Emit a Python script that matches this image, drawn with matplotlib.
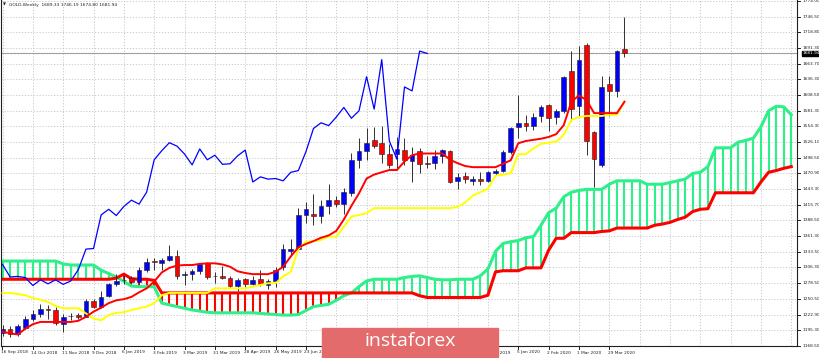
import matplotlib
matplotlib.use("Agg")
import matplotlib.pyplot as plt
from matplotlib.patches import Rectangle
import numpy as np

# weekly GOLD candles, one per week from 16 Sep 2018
opens = [1191, 1197, 1189, 1200, 1215, 1224, 1232, 1231, 1206, 1220,
         1222, 1219, 1247, 1237, 1256, 1277, 1283, 1287, 1281, 1302,
         1317, 1313, 1319, 1326, 1292, 1294, 1300, 1313, 1291, 1291,
         1288, 1274, 1285, 1277, 1285, 1275, 1282, 1306, 1335, 1339,
         1398, 1399, 1396, 1414, 1425, 1417, 1437, 1495, 1511, 1530,
         1525, 1505, 1505, 1513, 1493, 1511, 1490, 1490, 1502, 1511,
         1458, 1466, 1458, 1462, 1458, 1472, 1476, 1509, 1553, 1559,
         1555, 1572, 1591, 1570, 1581, 1651, 1590, 1697, 1544, 1486,
         1628, 1615, 1689.33]
highs = [1205, 1202, 1206, 1220, 1231, 1241, 1240, 1237, 1224, 1226,
         1226, 1251, 1251, 1265, 1278, 1294, 1292, 1291, 1307, 1322,
         1323, 1323, 1345, 1336, 1300, 1303, 1314, 1316, 1298, 1308,
         1290, 1288, 1288, 1290, 1301, 1286, 1306, 1347, 1355, 1410,
         1421, 1435, 1425, 1452, 1432, 1445, 1507, 1533, 1550, 1552,
         1554, 1522, 1535, 1533, 1517, 1516, 1502, 1512, 1514, 1513,
         1472, 1474, 1466, 1474, 1476, 1478, 1512, 1553, 1609, 1574,
         1578, 1592, 1593, 1584, 1643, 1687, 1695, 1701, 1546, 1642,
         1642, 1688, 1746.19]
lows = [1185, 1184, 1186, 1197, 1212, 1219, 1216, 1205, 1193, 1214,
        1215, 1218, 1235, 1235, 1254, 1274, 1277, 1278, 1277, 1297,
        1302, 1301, 1317, 1285, 1275, 1283, 1294, 1285, 1279, 1285,
        1269, 1265, 1272, 1275, 1273, 1267, 1271, 1302, 1325, 1336,
        1384, 1380, 1384, 1400, 1412, 1400, 1431, 1480, 1494, 1515,
        1489, 1480, 1480, 1485, 1456, 1472, 1480, 1478, 1490, 1455,
        1443, 1455, 1450, 1450, 1456, 1469, 1474, 1506, 1534, 1545,
        1548, 1562, 1546, 1557, 1578, 1564, 1572, 1503, 1448, 1483,
        1572, 1606, 1674.80]
closes = [1197, 1189, 1202, 1215, 1224, 1232, 1231, 1208, 1219, 1221,
          1219, 1247, 1237, 1253, 1276, 1282, 1284, 1281, 1302, 1316,
          1315, 1319, 1326, 1291, 1295, 1300, 1311, 1289, 1290, 1288,
          1274, 1284, 1277, 1284, 1276, 1282, 1302, 1338, 1339, 1398,
          1408, 1397, 1413, 1424, 1417, 1438, 1495, 1511, 1525, 1519,
          1505, 1486, 1514, 1495, 1503, 1487, 1488, 1502, 1512, 1456,
          1465, 1461, 1462, 1458, 1473, 1476, 1509, 1550, 1560, 1555,
          1570, 1587, 1568, 1581, 1641, 1584, 1671, 1528, 1496, 1623,
          1616, 1686, 1681.94]

# Ichimoku lines
tenkan = [1193, 1190, 1188, 1198, 1206, 1210, 1210, 1210, 1210, 1210,
          1212, 1219, 1228, 1235, 1243, 1248, 1250, 1254, 1262, 1269,
          1281, 1297, 1305, 1309, 1310, 1310, 1312, 1313, 1313, 1311,
          1307, 1299, 1296, 1294, 1294, 1294, 1298, 1307, 1325, 1341,
          1347, 1352, 1358, 1362, 1370, 1390, 1414, 1436, 1462, 1469,
          1473, 1477, 1477, 1492, 1503, 1506, 1506, 1506, 1506, 1495,
          1489, 1484, 1482, 1482, 1482, 1482, 1488, 1494, 1524, 1528,
          1530, 1532, 1535, 1540, 1556, 1597, 1608, 1600, 1577, 1577,
          1577, 1577, 1597]
kijun = [1261, 1261, 1259, 1257, 1252, 1249, 1245, 1238, 1234, 1234,
         1234, 1225, 1216, 1213, 1222, 1226, 1227, 1231, 1234, 1237,
         1243, 1257, 1261, 1261, 1261, 1261, 1261, 1261, 1269, 1269,
         1269, 1269, 1269, 1272, 1275, 1278, 1278, 1290, 1298, 1338,
         1351, 1352, 1354, 1360, 1360, 1377, 1395, 1398, 1401, 1410,
         1410, 1410, 1410, 1410, 1410, 1410, 1410, 1410, 1410, 1410,
         1412, 1420, 1432, 1438, 1444, 1467, 1469, 1471, 1505, 1505,
         1515, 1523, 1525, 1527, 1539, 1565, 1570, 1572, 1572, 1572,
         1574, 1574, 1597]
span_a = [1317, 1317, 1317, 1317, 1317, 1317, 1317, 1317, 1312, 1310,
          1310, 1310, 1310, 1301, 1295, 1289, 1281, 1273, 1272, 1272,
          1272, 1243, 1240, 1237, 1234, 1231, 1229, 1227, 1226, 1226,
          1226, 1226, 1226, 1226, 1225, 1224, 1223, 1222, 1222, 1223,
          1230, 1237, 1239, 1241, 1248, 1256, 1261, 1272, 1282, 1285,
          1285, 1285, 1285, 1288, 1290, 1291, 1288, 1285, 1284, 1284,
          1285, 1285, 1285, 1291, 1303, 1334, 1348, 1351, 1353, 1358,
          1360, 1380, 1402, 1410, 1430, 1438, 1441, 1443, 1443, 1443,
          1452, 1458, 1458, 1458, 1458, 1452, 1452, 1452, 1455, 1458,
          1461, 1471, 1473, 1483, 1516, 1516, 1516, 1526, 1529, 1533,
          1553, 1581, 1589, 1588, 1574]
span_b = [1285, 1285, 1285, 1285, 1285, 1285, 1285, 1285, 1285, 1285,
          1285, 1285, 1285, 1285, 1285, 1287, 1294, 1286, 1285, 1285,
          1283, 1261, 1261, 1261, 1261, 1261, 1261, 1261, 1261, 1261,
          1261, 1261, 1261, 1261, 1261, 1261, 1261, 1261, 1261, 1261,
          1261, 1261, 1261, 1261, 1261, 1261, 1261, 1261, 1261, 1261,
          1261, 1261, 1261, 1261, 1261, 1256, 1253, 1253, 1253, 1253,
          1253, 1253, 1253, 1253, 1257, 1298, 1300, 1300, 1300, 1305,
          1305, 1305, 1336, 1357, 1357, 1367, 1367, 1367, 1367, 1369,
          1370, 1375, 1375, 1375, 1375, 1375, 1380, 1382, 1385, 1390,
          1394, 1404, 1408, 1409, 1437, 1437, 1437, 1437, 1437, 1437,
          1456, 1473, 1476, 1480, 1483]

date_labels = ["16 Sep 2018", "14 Oct 2018", "11 Nov 2018", "9 Dec 2018",
               "6 Jan 2019", "3 Feb 2019", "3 Mar 2019", "31 Mar 2019",
               "28 Apr 2019", "26 May 2019", "23 Jun 2019", "21 Jul 2019",
               "18 Aug 2019", "15 Sep 2019", "13 Oct 2019", "10 Nov 2019",
               "8 Dec 2019", "5 Jan 2020", "2 Feb 2020", "1 Mar 2020",
               "29 Mar 2020"]
price_labels = [1774.00, 1746.50, 1718.80, 1691.30, 1663.70, 1636.30,
                1608.50, 1581.30, 1554.30, 1526.10, 1498.50, 1470.90,
                1443.30, 1415.70, 1388.50, 1361.30, 1333.50, 1306.30,
                1278.50, 1250.50, 1222.90, 1195.30, 1168.50]
last_price = 1681.94
shift = 26

W, H = 820, 358
fig = plt.figure(figsize=(W / 100, H / 100), dpi=100)
fig.patch.set_facecolor("white")
ax = fig.add_axes([1 / W, 12 / H, 796 / W, 346 / H])
ax.set_xlim(-0.2, 104.75)
ax.set_ylim(1167.7, 1775.8)

gridc = "#c4c4c4"
for p in price_labels:
    ax.axhline(p, color=gridc, lw=0.6, ls=(0, (1.5, 2)), zorder=0)
for k in range(0, 106, 4):
    ax.axvline(k, color=gridc, lw=0.6, ls=(0, (1.5, 2)), zorder=0)

# cloud with vertical hatching
green = "#2ef08a"
xc = np.arange(len(span_a))
a = np.array(span_a)
b = np.array(span_b)
ax.vlines(xc[a >= b], b[a >= b], a[a >= b], color=green, lw=1.5, zorder=1)
ax.vlines(xc[a < b], a[a < b], b[a < b], color="#ff0000", lw=1.5, zorder=1)
ax.plot(xc, span_a, color=green, lw=2.2, zorder=2)
ax.plot(xc, span_b, color="#ff0000", lw=2.2, zorder=2)

# candles
x = np.arange(len(closes))
o = np.array(opens)
c = np.array(closes)
ax.vlines(x, lows, highs, color="#303030", lw=0.7, zorder=3)
up = c >= o
ax.bar(x[up], c[up] - o[up], bottom=o[up], width=0.62, color="#0000ff",
       edgecolor="#202020", lw=0.4, zorder=4)
ax.bar(x[~up], o[~up] - c[~up], bottom=c[~up], width=0.62, color="#ff0000",
       edgecolor="#202020", lw=0.4, zorder=4)

ax.plot(x, kijun, color="#ffff00", lw=1.4, zorder=5)
ax.plot(x, tenkan, color="#ff0000", lw=1.4, zorder=6)
ax.plot(x[:-shift], closes[shift:], color="#0000ff", lw=0.9, zorder=6)

ax.axhline(last_price, color="#a0a0a0", lw=0.8, zorder=2)

ax.set_xticks([])
ax.set_yticks([])
ax.spines["top"].set_visible(False)
for s in ["left", "right", "bottom"]:
    ax.spines[s].set_color("#202020")
    ax.spines[s].set_linewidth(0.8)


def fx(px):
    return px / W


def fy(py):
    return 1 - py / H


def xpix(i):
    return 2.5 + 7.585 * i


def ypix(p):
    return 1 + (1774.0 - p) * 0.569


# date axis
for n, lab in enumerate(date_labels):
    xp = xpix(4 * n)
    fig.add_artist(plt.Line2D([fx(xp), fx(xp)], [fy(346), fy(349)],
                              color="#202020", lw=0.7))
    fig.text(fx(xp - 1.5), fy(352.5), lab, fontsize=3.1, ha="left",
             va="center", color="#202020")

# price axis
for p in price_labels:
    yp = ypix(p)
    fig.add_artist(plt.Line2D([fx(797), fx(800)], [fy(yp), fy(yp)],
                              color="#202020", lw=0.7))
    fig.text(fx(802.5), fy(yp), "%.2f" % p, fontsize=3.1, ha="left",
             va="center", color="#202020")

yl = ypix(last_price)
fig.text(fx(802.5), fy(yl), "%.2f" % last_price, fontsize=3.1, ha="left",
         va="center", color="white",
         bbox=dict(boxstyle="square,pad=0.2", fc="black", ec="black"))

# header
fig.text(fx(3), fy(5), "\u25bc", fontsize=2.8, ha="left", va="center",
         color="#202020")
fig.text(fx(9), fy(5), "GOLD,Weekly  1689.33 1746.19 1674.80 1681.94",
         fontsize=3.2, ha="left", va="center", color="#202020")

# watermark logo
fig.add_artist(Rectangle((fx(322), 0), fx(498) - fx(322), fy(328),
                         transform=fig.transFigure, color="#e36b6b",
                         zorder=10))
fig.text(fx(410), fy(341), "instaforex", fontsize=14, ha="center",
         va="center", color="white", family="Open Sans", zorder=11)

fig.savefig("out.png", dpi=100, facecolor="white")
